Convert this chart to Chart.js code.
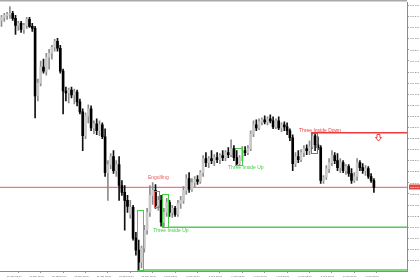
<!DOCTYPE html>
<html><head><meta charset="utf-8">
<script src="https://cdn.jsdelivr.net/npm/chart.js@4.4.1/dist/chart.umd.min.js"></script>
<style>html,body{margin:0;padding:0;background:#fff;overflow:hidden}canvas{display:block}</style>
</head><body>
<canvas id="c" width="420" height="280"></canvas>
<script>
const openP = [109.81,109.84,109.86,109.87,109.88,109.83,109.76,109.78,109.72,109.76,109.82,109.75,109.73,109.05,109.18,109.34,109.30,109.44,109.48,109.54,
109.60,109.53,109.30,109.10,109.08,109.11,109.06,109.09,108.99,108.89,108.65,108.85,108.92,108.73,108.77,108.70,108.76,108.64,108.28,108.36,
108.44,108.30,108.36,108.15,108.08,108.00,107.86,107.93,107.62,107.50,107.38,107.52,107.70,107.88,108.05,108.10,107.95,108.00,107.78,107.88,
107.98,107.88,107.92,107.86,107.97,108.00,108.10,108.22,108.11,108.18,108.21,108.19,108.28,108.42,108.38,108.42,108.40,108.43,108.41,108.45,
108.43,108.48,108.46,108.52,108.43,108.37,108.43,108.50,108.48,108.52,108.67,108.76,108.73,108.79,108.81,108.79,108.82,108.80,108.74,108.80,
108.73,108.76,108.74,108.70,108.63,108.37,108.44,108.41,108.48,108.52,108.50,108.54,108.65,108.56,108.53,108.20,108.23,108.32,108.38,108.45,
108.40,108.33,108.38,108.30,108.34,108.27,108.20,108.24,108.38,108.33,108.30,108.32,108.24,108.20];
const highP = [109.86,109.88,109.89,109.95,109.90,109.86,109.80,109.80,109.78,109.84,109.84,109.78,109.75,109.22,109.40,109.42,109.48,109.52,109.56,109.62,
109.63,109.56,109.32,109.14,109.13,109.14,109.12,109.11,109.02,108.92,108.88,108.96,108.95,108.80,108.82,108.80,108.78,108.72,108.40,108.47,
108.50,108.40,108.44,108.20,108.15,108.05,108.00,107.95,107.68,107.60,107.54,107.75,107.92,108.15,108.18,108.16,108.04,108.05,107.92,108.02,
108.00,107.95,107.94,108.00,108.04,108.14,108.26,108.28,108.22,108.24,108.25,108.30,108.45,108.48,108.44,108.50,108.46,108.48,108.47,108.50,
108.50,108.53,108.61,108.55,108.50,108.45,108.54,108.54,108.55,108.70,108.80,108.81,108.82,108.83,108.85,108.84,108.86,108.84,108.82,108.84,
108.78,108.79,108.78,108.72,108.66,108.48,108.50,108.51,108.55,108.56,108.60,108.68,108.67,108.64,108.55,108.25,108.35,108.42,108.50,108.48,
108.47,108.42,108.40,108.36,108.36,108.32,108.28,108.42,108.40,108.37,108.35,108.34,108.27,108.22];
const lowP = [109.75,109.80,109.82,109.83,109.81,109.67,109.71,109.69,109.68,109.73,109.74,109.70,108.83,109.00,109.15,109.28,109.26,109.32,109.42,109.50,
109.50,109.28,108.87,109.00,108.98,109.03,108.97,108.95,108.87,108.50,108.62,108.78,108.70,108.67,108.66,108.65,108.62,108.24,108.00,108.32,
108.27,108.24,108.00,108.05,107.70,107.88,107.82,107.60,107.45,107.30,107.32,107.48,107.66,107.84,107.96,107.92,107.90,107.74,107.73,107.84,
107.84,107.83,107.84,107.84,107.92,107.97,108.06,108.08,108.09,108.13,108.16,108.17,108.24,108.34,108.33,108.37,108.35,108.38,108.37,108.40,
108.40,108.43,108.44,108.40,108.35,108.36,108.40,108.45,108.46,108.50,108.64,108.70,108.71,108.76,108.77,108.76,108.78,108.72,108.72,108.71,
108.69,108.70,108.66,108.60,108.30,108.34,108.38,108.39,108.44,108.46,108.46,108.52,108.50,108.51,108.17,108.17,108.21,108.28,108.35,108.37,
108.30,108.28,108.28,108.26,108.24,108.17,108.18,108.20,108.30,108.27,108.25,108.22,108.18,108.08];
const closeP = [109.84,109.86,109.87,109.88,109.83,109.76,109.78,109.72,109.76,109.82,109.75,109.73,109.05,109.18,109.34,109.30,109.44,109.48,109.54,109.60,
109.53,109.30,109.10,109.08,109.11,109.06,109.09,108.99,108.89,108.65,108.85,108.92,108.73,108.77,108.70,108.76,108.64,108.28,108.36,108.44,
108.30,108.36,108.15,108.08,108.00,107.94,107.93,107.62,107.50,107.38,107.52,107.70,107.88,108.05,108.10,107.95,108.00,107.78,107.88,107.98,
107.88,107.92,107.86,107.97,108.00,108.10,108.22,108.11,108.18,108.21,108.19,108.28,108.42,108.38,108.42,108.40,108.43,108.41,108.45,108.43,
108.48,108.46,108.52,108.43,108.37,108.43,108.50,108.48,108.52,108.67,108.76,108.73,108.79,108.81,108.79,108.82,108.80,108.74,108.80,108.73,
108.76,108.74,108.70,108.63,108.37,108.44,108.41,108.48,108.52,108.50,108.54,108.65,108.56,108.53,108.20,108.23,108.32,108.38,108.45,108.40,
108.33,108.38,108.30,108.34,108.27,108.20,108.24,108.38,108.33,108.30,108.32,108.24,108.20,108.13];

const xTickIndex = [2,10,18,26,34,42,50,58,66,74,82,90,98,106,114,122,130];
const xTickLabels = ["29 Jan 18:00","30 Jan 02:00","30 Jan 10:00","30 Jan 18:00","31 Jan 02:00","31 Jan 10:00","31 Jan 18:00","3 Feb 02:00","3 Feb 10:00","3 Feb 18:00","4 Feb 02:00","4 Feb 10:00","4 Feb 18:00","5 Feb 02:00","5 Feb 10:00","5 Feb 18:00","6 Feb 02:00"];
const yTickValues = [109.960,109.849,109.737,109.626,109.514,109.403,109.291,109.180,109.068,108.957,108.845,108.734,108.622,108.511,108.399,108.288,108.176,108.065,107.953,107.842,107.730,107.619,107.507,107.396];
const bidPrice = 108.13;

const patternLabels = ["Engulfing","Three Inside Up","Three Inside Up","Three Inside Down"];
const patternLabelX = [52.3, 54.1, 80.9, 106.25];
const patternLabelY = [108.225, 107.695, 108.325, 108.705];
const patternLabelColor = ["#ee5a5a","#44cc44","#44cc44","#ee4040"];
// boxes: [x1, x2, yTop, yBottom]
const patternBoxes = [[54.6,56.1,108.09,107.93],[48.4,50.5,107.90,107.30],[57.3,59.5,108.06,107.73],[83.4,85.9,108.53,108.36],[110.5,112.7,108.68,108.48]];
const patternBoxColor = ["#ee5a5a","#44cc44","#44cc44","#44cc44","#ee4040"];
const levelStart = [110.5, 59.5, 50.5];
const levelPrice = [108.68, 107.73, 107.30];
const levelColor = ["#ee3a3a","#55cc55","#55cc55"];
const arrowAt = [134.5, 108.655];

const X_MIN = -0.536, X_MAX = 144.82;
const idx = openP.map((_, i) => i);
const isUp = idx.map(i => closeP[i] >= openP[i]);

const datasets = [
  { type:'bar', data: idx.map(i => ({x:i, y:[lowP[i], highP[i]]})), barThickness:1, grouped:false, order:3,
    backgroundColor: isUp.map(u => u ? '#8c8c8c' : '#111'), borderWidth:0 },
  { type:'bar', data: idx.map(i => ({x:i, y:[openP[i], closeP[i]]})), barThickness:2, grouped:false, order:2, minBarLength:1,
    backgroundColor: isUp.map(u => u ? '#c8c8c8' : '#000'), borderWidth:0, borderSkipped:false },
  { type:'line', data:[{x:X_MIN,y:bidPrice},{x:X_MAX,y:bidPrice}], borderColor:'#f07878', borderWidth:1.3, pointRadius:0, order:4 }
];
levelPrice.forEach((p, k) => {
  datasets.push({ type:'line', data:[{x:levelStart[k],y:p},{x:X_MAX,y:p}], borderColor:levelColor[k], borderWidth: k===0 ? 1.3 : 1.5, pointRadius:0, order:0 });
});

const overlay = {
  id:'overlay',
  afterDatasetsDraw(chart) {
    const {ctx, scales:{x, y}} = chart;
    ctx.save();
    patternBoxes.forEach((b, k) => {
      const x1 = Math.round(x.getPixelForValue(b[0])) + 0.5, x2 = Math.round(x.getPixelForValue(b[1])) + 0.5;
      const y1 = Math.round(y.getPixelForValue(b[2])) + 0.5, y2 = Math.round(y.getPixelForValue(b[3])) + 0.5;
      ctx.strokeStyle = patternBoxColor[k]; ctx.lineWidth = 1;
      ctx.strokeRect(x1, y1, x2 - x1, y2 - y1);
    });
    ctx.font = '5px "Liberation Sans", Arial, sans-serif';
    ctx.textBaseline = 'middle'; ctx.textAlign = 'left';
    patternLabels.forEach((t, k) => {
      ctx.fillStyle = patternLabelColor[k];
      ctx.fillText(t, x.getPixelForValue(patternLabelX[k]), y.getPixelForValue(patternLabelY[k]));
    });
    const ax = Math.round(x.getPixelForValue(arrowAt[0])) + 0.5, ay = Math.round(y.getPixelForValue(arrowAt[1])) + 0.5;
    ctx.strokeStyle = '#ee4040'; ctx.lineWidth = 1;
    ctx.beginPath();
    ctx.moveTo(ax - 1.5, ay - 1); ctx.lineTo(ax + 1.5, ay - 1); ctx.lineTo(ax + 1.5, ay + 2);
    ctx.lineTo(ax + 3, ay + 2); ctx.lineTo(ax, ay + 5.5); ctx.lineTo(ax - 3, ay + 2);
    ctx.lineTo(ax - 1.5, ay + 2); ctx.closePath(); ctx.stroke();
    ctx.restore();
  },
  afterDraw(chart) {
    const {ctx, scales:{y}, chartArea} = chart;
    ctx.save();
    ctx.strokeStyle = '#a8a8a8'; ctx.lineWidth = 1.5;
    ctx.beginPath(); ctx.moveTo(0, 0.75); ctx.lineTo(chartArea.right, 0.75); ctx.stroke();
    const py = Math.round(y.getPixelForValue(bidPrice));
    ctx.fillStyle = '#e04848';
    ctx.fillRect(chartArea.right + 2, py - 2.5, 420 - chartArea.right - 2, 5);
    ctx.fillStyle = '#ffffff';
    ctx.font = '2.5px "Liberation Sans", Arial, sans-serif';
    ctx.textBaseline = 'middle'; ctx.textAlign = 'left';
    ctx.fillText(bidPrice.toFixed(3), chartArea.right + 3, py);
    ctx.restore();
  }
};

new Chart(document.getElementById('c'), {
  data: { datasets },
  options: {
    responsive:false, animation:false,
    layout:{ padding:{ top:1, left:0, right:0, bottom:0 } },
    plugins:{ legend:{display:false}, tooltip:{enabled:false} },
    scales:{
      x:{ type:'linear', min:X_MIN, max:X_MAX, offset:false,
        afterBuildTicks: s => { s.ticks = xTickIndex.map(v => ({value:v})); },
        afterFit: s => { s.height = 9; },
        ticks:{ autoSkip:false, maxRotation:0, minRotation:0, align:'start', padding:2, color:'#666',
          font:{ size:2.5, family:'"Liberation Sans", Arial, sans-serif' },
          callback: (v, k) => xTickLabels[k] },
        grid:{ display:true, drawOnChartArea:false, tickLength:2, color:'#999' },
        border:{ color:'#8a8a8a', width:1 } },
      y:{ type:'linear', position:'right', min:107.29, max:109.99,
        afterBuildTicks: s => { s.ticks = yTickValues.map(v => ({value:v})); },
        afterFit: s => { s.width = 13; },
        ticks:{ padding:1, color:'#666', font:{ size:2.5, family:'"Liberation Sans", Arial, sans-serif' },
          callback: v => Number(v).toFixed(3) },
        grid:{ display:true, drawOnChartArea:false, tickLength:2, color:'#999' },
        border:{ color:'#8a8a8a', width:1 } }
    }
  },
  plugins:[overlay]
});
</script>
</body></html>
